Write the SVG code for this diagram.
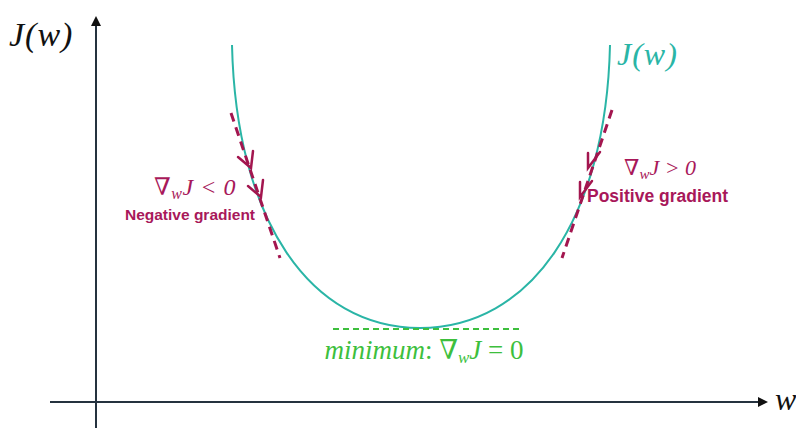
<svg xmlns="http://www.w3.org/2000/svg" width="796" height="432" viewBox="0 0 796 432">
<style>
.axis{stroke:#25323f;stroke-width:2;fill:none}
.curve{stroke:#2ab5a6;stroke-width:2;fill:none}
.tan{stroke:#a3164f;stroke-width:3;stroke-dasharray:9,6;fill:none}
.chev{stroke:#a3164f;stroke-width:2.5;fill:none;stroke-linecap:round}
.lbl{font-family:"Liberation Sans",Arial,sans-serif;fill:#a8185a;font-weight:bold}
.math{font-family:"Liberation Serif","DejaVu Serif",serif;font-style:italic}
</style>
<defs>
<marker id="ah" markerWidth="10" markerHeight="10" refX="8" refY="5" orient="auto" markerUnits="userSpaceOnUse">
<path d="M0,0 L10,5 L0,10 Z" fill="#111"/>
</marker>
</defs>
<rect width="796" height="432" fill="#fff"/>
<g id="axes">
<line class="axis" x1="96" y1="428" x2="96" y2="18" marker-end="url(#ah)"/>
<line class="axis" x1="50" y1="402" x2="766" y2="402" marker-end="url(#ah)"/>
<text class="math" x="9" y="46" font-size="34" letter-spacing="1" fill="#111">J(w)</text>
<text class="math" x="775" y="410" font-size="32" fill="#111">w</text>
</g>
<g id="curve">
<path class="curve" d="M232,45 C236,220 310,328 420,328 C530,328 606,220 610,45"/>
<text class="math" x="617" y="65" font-size="32" letter-spacing="1" fill="#2ab5a6">J(w)</text>
</g>
<g id="connectors">
<line class="tan" x1="231" y1="113" x2="280" y2="258"/>
<line class="tan" x1="612" y1="110" x2="562" y2="258"/>
<path class="chev" d="M238,157 L251,168 L253,151"/>
<path class="chev" d="M248,186 L261,197 L263,180"/>
<path class="chev" d="M600,152 L588,168 L588,153"/>
<path class="chev" d="M592,181 L580,197 L580,182"/>
<line x1="333" y1="329" x2="523" y2="329" stroke="#3dbf3d" stroke-width="1.8" stroke-dasharray="6,4"/>
</g>
<g id="left-label">
<text x="195" y="195" text-anchor="middle" class="math" font-size="24" letter-spacing="0.5" fill="#a8185a">∇<tspan font-size="16" dy="4">w</tspan><tspan dy="-4">J &lt; 0</tspan></text>
<text class="lbl" x="190" y="220" font-size="15.5" text-anchor="middle">Negative gradient</text>
</g>
<g id="right-label">
<text x="624" y="175" class="math" font-size="22" fill="#a8185a">∇<tspan font-size="15" dy="4">w</tspan><tspan dy="-4">J &gt; 0</tspan></text>
<text class="lbl" x="587" y="202" font-size="17.5">Positive gradient</text>
</g>
<g id="minimum-label">
<text x="424" y="359" text-anchor="middle" class="math" font-size="27" fill="#3dbf3d">minimum<tspan font-style="normal">: ∇</tspan><tspan font-size="17" dy="4">w</tspan><tspan dy="-4">J</tspan><tspan font-style="normal"> = 0</tspan></text>
</g>
</svg>
